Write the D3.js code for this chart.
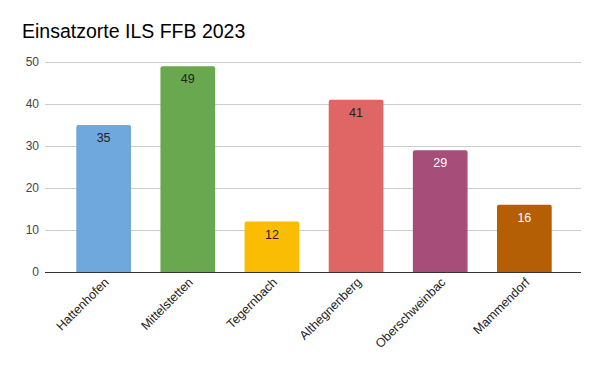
<!DOCTYPE html>
<html><head><meta charset="utf-8">
<script src="https://cdn.jsdelivr.net/npm/d3@7"></script>
<style>body{margin:0;background:#fff;} svg{display:block;font-family:"Liberation Sans",Arial,sans-serif;}</style>
</head><body><svg id="c" width="600" height="371"></svg>
<script>
const categories = ["Hattenhofen","Mittelstetten","Tegernbach","Althegnenberg","Oberschweinbac","Mammendorf"];
const values = [35,49,12,41,29,16];
const colors = ["#6fa8dc","#6aa84f","#fbbc04","#e06666","#a64d79","#b45f06"];
const labelColors = ["#222","#222","#222","#222","#fff","#fff"];
const yTicks = [0,10,20,30,40,50];
const title = "Einsatzorte ILS FFB 2023";

const svg = d3.select("#c");
svg.append("rect").attr("width",600).attr("height",371).attr("fill","#fff");
const x = d3.scaleBand().domain(categories).range([46,582]).paddingInner(0.35).paddingOuter(0.36);
const y = d3.scaleLinear().domain([0,50]).range([272,62]);

svg.append("text").attr("x",22).attr("y",38).attr("font-size",19.5).attr("fill","#000").text(title);

const g = svg.append("g");
g.selectAll("line.grid").data(yTicks).join("line")
  .attr("x1",45).attr("x2",581).attr("y1",d=>y(d)+0.5).attr("y2",d=>y(d)+0.5)
  .attr("stroke","#cccccc").attr("stroke-width",1);
g.selectAll("text.yt").data(yTicks).join("text")
  .attr("x",39).attr("y",d=>y(d)+4).attr("text-anchor","end").attr("font-size",12).attr("fill","#444").text(d=>d);

const r = 2;
g.selectAll("path.bar").data(values).join("path")
  .attr("fill",(d,i)=>colors[i])
  .attr("d",(d,i)=>{
    const x0=x(categories[i]), w=x.bandwidth(), y0=y(d), y1=y(0);
    return `M${x0},${y1}V${y0+r}Q${x0},${y0} ${x0+r},${y0}H${x0+w-r}Q${x0+w},${y0} ${x0+w},${y0+r}V${y1}Z`;
  });

g.selectAll("text.val").data(values).join("text")
  .attr("x",(d,i)=>x(categories[i])+x.bandwidth()/2).attr("y",d=>y(d)+17)
  .attr("text-anchor","middle").attr("font-size",12.5).attr("fill",(d,i)=>labelColors[i]).text(d=>d);

g.append("line").attr("x1",45).attr("x2",581).attr("y1",272.5).attr("y2",272.5).attr("stroke","#333").attr("stroke-width",1);

g.selectAll("text.xl").data(categories).join("text")
  .attr("transform",d=>`translate(${x(d)+x.bandwidth()/2+6},${283}) rotate(-45)`)
  .attr("text-anchor","end").attr("font-size",12.5).attr("fill","#222").text(d=>d);
</script></body></html>
